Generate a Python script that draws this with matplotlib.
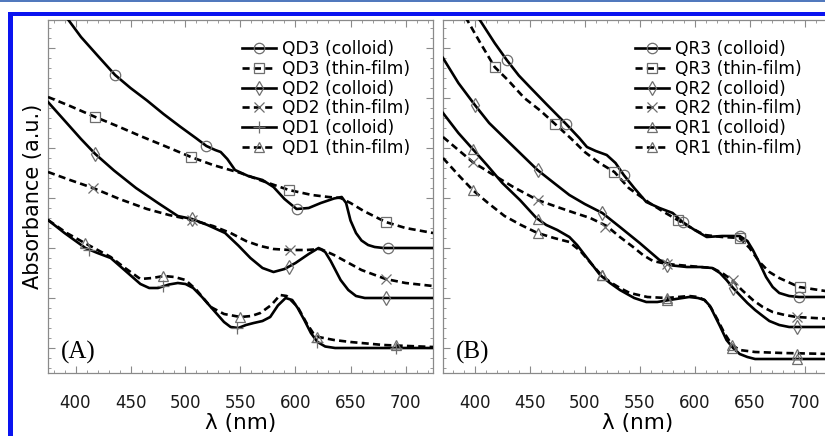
import matplotlib
matplotlib.use("Agg")
import matplotlib.pyplot as plt
from matplotlib.lines import Line2D
from matplotlib.patches import Rectangle
from matplotlib.ticker import MultipleLocator, NullFormatter

# ---- panel A : quantum dots (absorbance, offset units) ----
qd3c_x = [375, 385, 393.6, 405, 420, 436, 450, 465, 480, 495, 510, 519, 527, 532, 538, 545, 557, 570,
          580, 590, 601, 612, 623, 635, 642, 646, 650, 655, 660, 666, 672, 680, 725]
qd3c_y = [7.1, 6.8, 6.56, 6.22, 5.85, 5.46, 5.2, 4.95, 4.68, 4.43, 4.19, 4.04, 3.96, 3.92, 3.78, 3.56, 3.44, 3.36,
          3.22, 2.98, 2.78, 2.8, 2.9, 2.99, 3.02, 2.9, 2.55, 2.3, 2.15, 2.06, 2.02, 2.0, 2.0]
qd3t_x = [375, 395, 418, 440, 460, 480, 505, 525, 550, 570, 594, 615, 630, 641, 650, 662, 682, 700, 725]
qd3t_y = [5.02, 4.84, 4.62, 4.42, 4.23, 4.05, 3.82, 3.66, 3.5, 3.34, 3.16, 3.06, 3.02, 3.0, 2.9, 2.74, 2.52, 2.4, 2.3]
qd2c_x = [375, 390, 405, 418, 435, 455, 475, 493, 506, 520, 536, 548, 559, 570, 580, 590, 600, 612, 621,
          627, 632, 641, 648, 655, 663, 725]
qd2c_y = [4.92, 4.55, 4.18, 3.88, 3.55, 3.2, 2.9, 2.64, 2.58, 2.46, 2.3, 2.05, 1.8, 1.6, 1.52, 1.58, 1.7, 1.88, 2.0,
          1.92, 1.74, 1.36, 1.16, 1.04, 1.0, 1.0]
qd2t_x = [375, 395, 416, 440, 465, 485, 506, 525, 541, 555, 568, 580, 595, 610, 623, 635, 645, 660, 682, 700, 725]
qd2t_y = [3.52, 3.36, 3.2, 2.98, 2.78, 2.66, 2.56, 2.44, 2.3, 2.14, 2.04, 1.98, 1.96, 1.96, 1.98, 1.86, 1.74, 1.56,
          1.38, 1.3, 1.24]
qd1c_x = [375, 390, 409, 420, 432, 445, 459, 467, 475, 485, 493, 500, 507, 515, 527, 535, 541, 548, 555, 562,
          570, 577, 584, 591, 597, 602, 608, 614, 620, 627, 636, 725]
qd1c_y = [2.56, 2.3, 2.0, 1.9, 1.8, 1.55, 1.28, 1.2, 1.2, 1.27, 1.3, 1.28, 1.2, 1.02, 0.72, 0.52, 0.42, 0.4, 0.46, 0.5,
          0.54, 0.62, 0.85, 1.0, 0.96, 0.8, 0.56, 0.3, 0.12, 0.03, 0.0, 0.0]
qd1t_x = [375, 392, 410, 432, 445, 459, 470, 480, 490, 500, 510, 523, 535, 550, 560, 568, 578, 586, 592, 602,
          610, 616, 621, 635, 650, 680, 725]
qd1t_y = [2.56, 2.3, 2.08, 1.82, 1.6, 1.38, 1.4, 1.44, 1.42, 1.36, 1.16, 0.82, 0.68, 0.62, 0.64, 0.7, 0.86, 1.06, 1.04,
          0.82, 0.5, 0.3, 0.22, 0.16, 0.12, 0.06, 0.02]

qd3c_mx, qd3c_my = [436, 519, 601, 684], [5.46, 4.04, 2.78, 2.0]
qd3t_mx, qd3t_my = [418, 505, 594, 682], [4.62, 3.82, 3.16, 2.52]
qd2c_mx, qd2c_my = [418, 506, 594, 682], [3.88, 2.58, 1.62, 1.0]
qd2t_mx, qd2t_my = [416, 506, 595, 682], [3.2, 2.56, 1.96, 1.38]
qd1c_mx, qd1c_my = [412, 480, 547, 620, 691], [1.96, 1.24, 0.4, 0.12, 0.0]
qd1t_mx, qd1t_my = [409, 480, 550, 620, 691], [2.1, 1.44, 0.62, 0.22, 0.06]

# ---- panel B : quantum rods ----
qr3c_x = [371, 385, 404.5, 418, 429, 440, 450, 465, 483, 495, 502, 510, 520, 528, 535.5, 545, 556, 568, 580,
          589, 600, 611, 625, 641, 648, 653, 659, 665, 671, 677, 686, 695, 725]
qr3c_y = [7.4, 7.0, 6.56, 6.1, 5.76, 5.45, 5.22, 4.88, 4.48, 4.2, 4.02, 3.94, 3.86, 3.7, 3.46, 3.2, 2.92, 2.8, 2.7,
          2.52, 2.36, 2.22, 2.24, 2.24, 2.14, 1.96, 1.7, 1.42, 1.22, 1.1, 1.04, 1.02, 1.02]
qr3t_x = [371, 393, 405, 418, 430, 445, 460, 473, 487, 500, 512, 527, 540, 559, 572, 584.5, 597, 609, 625, 641,
          650, 659, 668, 677, 695, 725]
qr3t_y = [7.2, 6.56, 6.1, 5.62, 5.36, 5.0, 4.74, 4.48, 4.2, 3.92, 3.72, 3.52, 3.2, 2.9, 2.72, 2.56, 2.4, 2.26, 2.22,
          2.2, 2.0, 1.72, 1.52, 1.4, 1.22, 1.12]
qr2c_x = [371, 385, 400, 413, 427, 442, 457, 472, 486, 500, 516, 532, 550, 568, 580, 593, 605, 616, 623, 629,
          635, 641, 648, 655, 662, 668, 677, 686, 725]
qr2c_y = [5.8, 5.3, 4.86, 4.5, 4.2, 3.88, 3.56, 3.3, 3.06, 2.88, 2.7, 2.42, 2.1, 1.76, 1.65, 1.62, 1.62, 1.6, 1.5,
          1.36, 1.2, 1.06, 0.9, 0.76, 0.64, 0.54, 0.46, 0.42, 0.42]
qr2t_x = [371, 385, 398, 414, 435, 457, 475, 491, 505, 520, 532, 544, 553, 562, 575, 595, 616, 625, 634, 643,
          653, 662, 671, 682, 693, 725]
qr2t_y = [4.22, 3.96, 3.72, 3.5, 3.22, 2.96, 2.82, 2.7, 2.6, 2.44, 2.22, 2.02, 1.86, 1.74, 1.68, 1.64, 1.6, 1.5, 1.36,
          1.16, 0.96, 0.82, 0.72, 0.66, 0.62, 0.58]
qr1c_x = [371, 385, 398, 411, 425, 441, 456, 465, 475, 486, 493, 500, 507, 514, 523, 532, 545, 556, 566, 577,
          595, 603, 609, 614, 618, 623, 629, 635, 641, 648, 655, 725]
qr1c_y = [4.7, 4.3, 3.98, 3.66, 3.3, 2.96, 2.6, 2.46, 2.36, 2.22, 2.06, 1.86, 1.66, 1.46, 1.3, 1.16, 1.0, 0.92, 0.92,
          0.96, 1.02, 1.0, 0.96, 0.84, 0.66, 0.44, 0.16, 0.0, -0.12, -0.18, -0.22, -0.22]
qr1t_x = [371, 385, 398, 412, 427, 442, 457, 472, 486, 496, 507, 515, 523, 532, 541, 557, 574.5, 595, 603, 609,
          615, 621, 627, 634, 641, 655, 680, 725]
qr1t_y = [3.8, 3.46, 3.16, 2.9, 2.64, 2.46, 2.3, 2.2, 2.12, 1.94, 1.66, 1.46, 1.32, 1.2, 1.1, 1.02, 1.0, 1.04, 1.02,
          0.96, 0.8, 0.56, 0.3, 0.06, -0.04, -0.08, -0.1, -0.12]

qr3c_mx, qr3c_my = [429, 483, 535.5, 589, 641, 695], [5.76, 4.48, 3.46, 2.52, 2.24, 1.02]
qr3t_mx, qr3t_my = [418, 473, 527, 584.5, 641, 695.5], [5.62, 4.48, 3.52, 2.56, 2.2, 1.22]
qr2c_mx, qr2c_my = [400, 457, 516, 574.5, 634.5, 693], [4.86, 3.56, 2.7, 1.66, 1.2, 0.42]
qr2t_mx, qr2t_my = [398, 457, 518, 574.5, 634.5, 693], [3.72, 2.96, 2.42, 1.68, 1.36, 0.62]
qr1c_mx, qr1c_my = [398, 457, 515.5, 574.5, 634, 693], [3.98, 2.58, 1.46, 0.96, 0.0, -0.22]
qr1t_mx, qr1t_my = [398, 457, 515.5, 574.5, 634, 693], [3.16, 2.3, 1.46, 1.0, 0.06, -0.12]

labels_a = ["QD3 (colloid)", "QD3 (thin-film)", "QD2 (colloid)", "QD2 (thin-film)", "QD1 (colloid)", "QD1 (thin-film)"]
labels_b = ["QR3 (colloid)", "QR3 (thin-film)", "QR2 (colloid)", "QR2 (thin-film)", "QR1 (colloid)", "QR1 (thin-film)"]
xticks = [400, 450, 500, 550, 600, 650, 700]

plt.rcParams['font.family'] = ['DejaVu Sans']
LW = 1.9
DASH = (0, (2.7, 1.6))
MK = dict(mfc='none', mec='#6e6e6e', mew=0.9)
styles = [('-', 'o', 7.5), (DASH, 's', 7), ('-', 'd', 7), (DASH, 'x', 7.5), ('-', '+', 9), (DASH, '^', 7.5)]
styles_b = [('-', 'o', 7.5), (DASH, 's', 7), ('-', 'd', 7), (DASH, 'x', 7.5), ('-', '^', 7.5), (DASH, '^', 7.5)]

fig = plt.figure(figsize=(8.25, 4.36), dpi=100)
W, H = 825.0, 436.0
axA = fig.add_axes([48 / W, 63 / H, 385 / W, 353 / H])
axB = fig.add_axes([443 / W, 63 / H, 389 / W, 353 / H])


def draw(ax, series, marks, sty, labels, xlim, tag, legx):
    for (x, y), (mx, my), (ls, m, ms) in zip(series, marks, sty):
        ax.plot(x, y, color='black', lw=LW, ls=ls, zorder=3)
        ax.plot(mx, my, ls='none', marker=m, ms=ms, zorder=4, **MK)
    handles = [Line2D([], [], color='black', lw=LW, ls=ls, marker=m, ms=ms, **MK) for ls, m, ms in sty]
    ax.legend(handles, labels, loc='upper left', bbox_to_anchor=(legx, 0.943), frameon=False,
              fontsize=12.3, handlelength=2.0, handletextpad=0.35, labelspacing=0.1,
              borderpad=0, borderaxespad=0)
    ax.set_xlim(*xlim)
    ax.set_ylim(-0.5, 6.56)
    ax.set_xticks(xticks)
    ax.xaxis.set_minor_locator(MultipleLocator(10))
    ax.yaxis.set_major_locator(MultipleLocator(1))
    ax.yaxis.set_minor_locator(MultipleLocator(0.2))
    ax.yaxis.set_major_formatter(NullFormatter())
    ax.tick_params(which='both', direction='in', top=True, right=True, color='#8a8a8a')
    ax.tick_params(which='major', length=5, labelsize=12, labelcolor='#1a1a1a')
    ax.tick_params(axis='x', which='major', pad=15)
    ax.tick_params(which='minor', length=2.5)
    for s in ax.spines.values():
        s.set_color('#8a8a8a')
        s.set_linewidth(0.9)
    ax.set_xlabel('λ (nm)', fontsize=15.5, labelpad=1)
    ax.text(0.033, 0.025, tag, transform=ax.transAxes, fontsize=18, family='Liberation Serif',
            ha='left', va='bottom')


draw(axA,
     [(qd3c_x, qd3c_y), (qd3t_x, qd3t_y), (qd2c_x, qd2c_y), (qd2t_x, qd2t_y), (qd1c_x, qd1c_y), (qd1t_x, qd1t_y)],
     [(qd3c_mx, qd3c_my), (qd3t_mx, qd3t_my), (qd2c_mx, qd2c_my), (qd2t_mx, qd2t_my), (qd1c_mx, qd1c_my),
      (qd1t_mx, qd1t_my)],
     styles, labels_a, (375, 725), '(A)', 0.504)
draw(axB,
     [(qr3c_x, qr3c_y), (qr3t_x, qr3t_y), (qr2c_x, qr2c_y), (qr2t_x, qr2t_y), (qr1c_x, qr1c_y), (qr1t_x, qr1t_y)],
     [(qr3c_mx, qr3c_my), (qr3t_mx, qr3t_my), (qr2c_mx, qr2c_my), (qr2t_mx, qr2t_my), (qr1c_mx, qr1c_my),
      (qr1t_mx, qr1t_my)],
     styles_b, labels_b, (371, 725), '(B)', 0.494)
axA.set_ylabel('Absorbance (a.u.)', fontsize=15, labelpad=0)

# journal frame (blue border)
fig.add_artist(Line2D([0, 1], [1 - 1.5 / H, 1 - 1.5 / H], color='#2f5fb0', lw=1.2))
fig.add_artist(Rectangle((8 / W, 1 - 16 / H), 1, 4 / H, color='#0a14f0', lw=0))
fig.add_artist(Rectangle((8 / W, 0), 5 / W, 1 - 12 / H, color='#0a14f0', lw=0))

fig.savefig('out.png', dpi=100)
